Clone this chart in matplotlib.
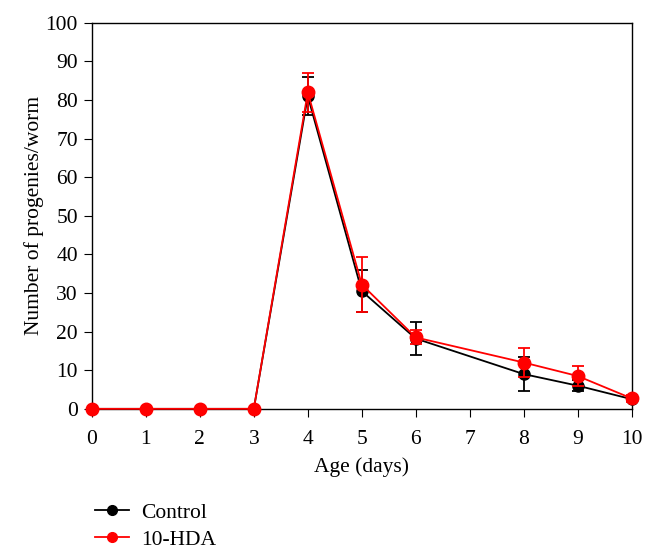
import matplotlib.pyplot as plt
from matplotlib.lines import Line2D

plt.rcParams['font.family'] = ['Liberation Serif', 'DejaVu Serif']

# Days (no measurement at day 7)
days = [0, 1, 2, 3, 4, 5, 6, 8, 9, 10]
control = [0, 0, 0, 0, 81, 30.5, 18.2, 9, 6, 2.5]
control_err = [0, 0, 0, 0, 5, 5.5, 4.2, 4.5, 1.5, 0.5]
hda = [0, 0, 0, 0, 82, 32.2, 18.5, 12, 8.5, 2.7]
hda_err = [0, 0, 0, 0, 5, 7.2, 1.8, 3.8, 2.6, 0.8]

fig = plt.figure(figsize=(6.56, 5.57), dpi=100)
ax = fig.add_axes([0.140, 0.266, 0.823, 0.693])

ax.errorbar(days, control, yerr=control_err, color='black', marker='o', ms=8,
            lw=1.3, elinewidth=1.3, capsize=4, capthick=1.3, clip_on=False, zorder=3)
ax.errorbar(days, hda, yerr=hda_err, color='#ff0000', marker='o', ms=9,
            lw=1.3, elinewidth=1.3, capsize=4, capthick=1.3, clip_on=False, zorder=4)

ax.set_xlim(0, 10)
ax.set_ylim(0, 100)
ax.set_xticks(range(0, 11))
ax.set_yticks(range(0, 101, 10))
ax.tick_params(direction='out', length=6, labelsize=15.5)
ax.tick_params(axis='x', pad=9)
ax.tick_params(axis='y', pad=4)
for s in ax.spines.values():
    s.set_linewidth(1.0)

ax.set_xlabel('Age (days)', fontsize=15.5, labelpad=6)
ax.set_ylabel('Number of progenies/worm', fontsize=15.5, labelpad=1)

handles = [Line2D([], [], color='black', marker='o', ms=7, lw=1.3),
           Line2D([], [], color='#ff0000', marker='o', ms=7, lw=1.3)]
fig.legend(handles, ['Control', '10-HDA'], loc='lower left',
           bbox_to_anchor=(0.115, -0.022), frameon=False, fontsize=15.5,
           handlelength=1.6, handletextpad=0.55, labelspacing=0.33)

fig.savefig('out.png', dpi=100)
